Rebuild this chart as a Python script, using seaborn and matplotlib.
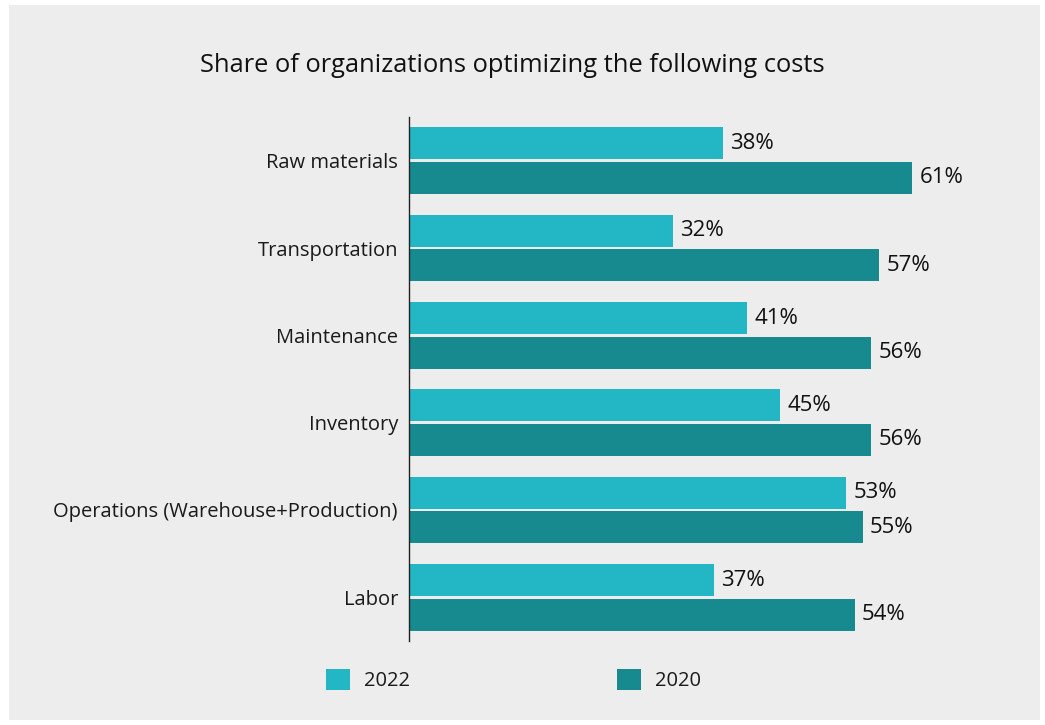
import matplotlib
matplotlib.use("Agg")
import matplotlib.pyplot as plt
from matplotlib.patches import Rectangle
import seaborn as sns
import pandas as pd

categories = ["Raw materials", "Transportation", "Maintenance", "Inventory",
              "Operations (Warehouse+Production)", "Labor"]
values_2022 = [38, 32, 41, 45, 53, 37]
values_2020 = [61, 57, 56, 56, 55, 54]
series = ["2022", "2020"]
colors = ["#23b7c6", "#178a90"]
title = "Share of organizations optimizing the following costs"

df = pd.DataFrame({
    "category": categories * 2,
    "value": values_2022 + values_2020,
    "year": [series[0]] * len(categories) + [series[1]] * len(categories),
})

sns.set_theme(style="white")
plt.rcParams["font.family"] = ["Open Sans", "DejaVu Sans"]

fig = plt.figure(figsize=(10.45, 7.25), dpi=100)
fig.patch.set_facecolor("white")
fig.patches.append(Rectangle((9 / 1045, 1 - 720 / 725), (1040 - 9) / 1045, (720 - 5) / 725,
                             transform=fig.transFigure, facecolor="#ededed",
                             edgecolor="none", zorder=-10))

ax = fig.add_axes([409 / 1045, 1 - 641 / 725, (1028 - 409) / 1045, (641 - 117) / 725])
ax.set_facecolor("none")

sns.barplot(data=df, y="category", x="value", hue="year", order=categories,
            hue_order=series, palette=colors, orient="h", width=0.79, gap=0.07,
            saturation=1, linewidth=0, edgecolor="none", ax=ax, legend=True)

for cont in ax.containers:
    ax.bar_label(cont, fmt="%d%%", padding=5, fontsize=16, color="#111111")

ax.set_xlim(0, 75)
ax.set_ylim(5.5, -0.5)
ax.set_xlabel("")
ax.set_ylabel("")
ax.set_xticks([])
ax.tick_params(axis="y", length=0, pad=8, labelsize=14.5, labelcolor="#1a1a1a")
for s in ["top", "right", "bottom"]:
    ax.spines[s].set_visible(False)
ax.spines["left"].set_color("#222222")
ax.spines["left"].set_linewidth(1.0)

handles, labels = ax.get_legend_handles_labels()
ax.get_legend().remove()
fig.legend(handles, labels, loc="center left", bbox_to_anchor=(308 / 1045, 1 - 680 / 725),
           ncol=2, frameon=False, fontsize=14.5, handlelength=1.2, handleheight=1.2,
           handletextpad=0.7, columnspacing=10.25, labelcolor="#1a1a1a")

fig.text(512 / 1045, 1 - 65 / 725, title, ha="center", va="center", fontsize=18.4,
         color="#111111")

fig.savefig("out.png", dpi=100, facecolor=fig.get_facecolor())
